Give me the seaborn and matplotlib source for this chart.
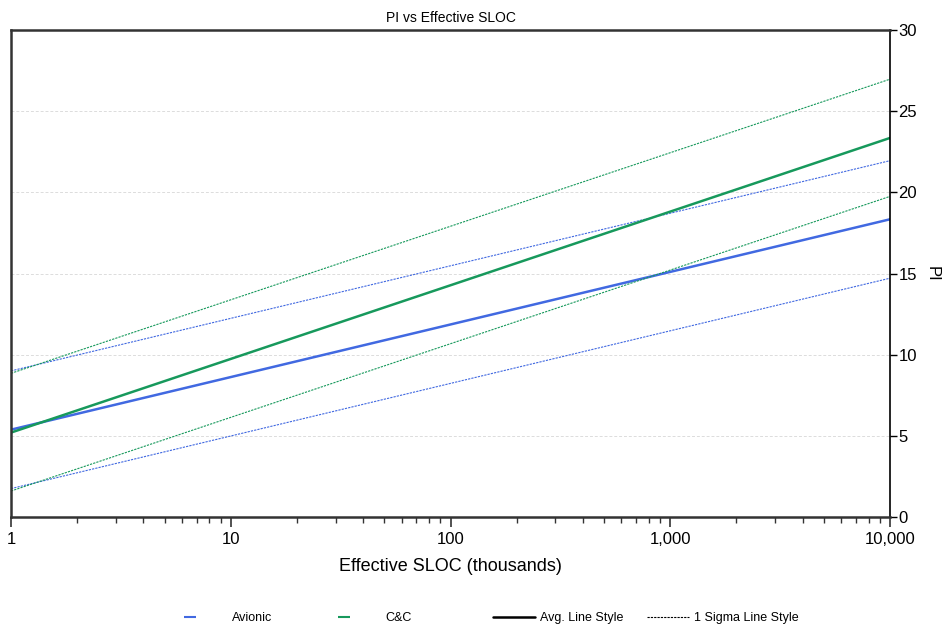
import matplotlib
matplotlib.use('Agg')
import matplotlib.pyplot as plt
import pandas as pd
import seaborn as sns
from matplotlib.ticker import FuncFormatter, LogLocator, NullFormatter, MultipleLocator
from matplotlib.lines import Line2D

# Data (PI at 1 and 10,000 thousand SLOC)
sloc = [1, 10000]
avionic_avg = [5.38, 18.34]
avionic_hi = [9.0, 21.95]
avionic_lo = [1.75, 14.71]
cc_avg = [5.2, 23.35]
cc_hi = [8.85, 26.97]
cc_lo = [1.6, 19.75]

series_names = ['Avionic', 'C&C']
series_colors = {'Avionic': '#4169e1', 'C&C': '#17995c'}

rows = []
for name, avg, hi, lo in [('Avionic', avionic_avg, avionic_hi, avionic_lo),
                          ('C&C', cc_avg, cc_hi, cc_lo)]:
    for kind, vals in [('avg', avg), ('hi', hi), ('lo', lo)]:
        for x, y in zip(sloc, vals):
            rows.append({'Series': name, 'Kind': kind, 'SLOC': x, 'PI': y})
df = pd.DataFrame(rows)

sns.set_style('white')
plt.rcParams['font.family'] = ['Liberation Sans', 'DejaVu Sans']
plt.rcParams['text.color'] = 'black'
plt.rcParams['axes.labelcolor'] = 'black'
plt.rcParams['xtick.color'] = 'black'
plt.rcParams['ytick.color'] = 'black'

fig = plt.figure(figsize=(9.44, 6.28), dpi=100, facecolor='white')
ax = fig.add_axes([11 / 944, 1 - 517 / 628, 879 / 944, 487 / 628])

ax.yaxis.grid(True, color='#dcdcdc', linestyle=(0, (3, 2)), linewidth=0.7)
ax.set_axisbelow(True)

for (name, kind), sub in df.groupby(['Series', 'Kind']):
    if kind == 'avg':
        sns.lineplot(data=sub, x='SLOC', y='PI', ax=ax, color=series_colors[name],
                     linewidth=1.8, legend=False)
    else:
        sns.lineplot(data=sub, x='SLOC', y='PI', ax=ax, color=series_colors[name],
                     linewidth=0.8, linestyle=(0, (2, 1)), legend=False)

ax.set_xscale('log')
ax.set_xlim(1, 10000)
ax.set_ylim(0, 30)

# y axis on the right
ax.yaxis.tick_right()
ax.yaxis.set_label_position('right')
ax.yaxis.set_major_locator(MultipleLocator(5))
ax.set_ylabel('PI', rotation=270, fontsize=12, labelpad=16)

ax.xaxis.set_major_locator(LogLocator(base=10, numticks=10))
ax.xaxis.set_minor_locator(LogLocator(base=10, subs=range(2, 10), numticks=50))
ax.xaxis.set_minor_formatter(NullFormatter())
ax.xaxis.set_major_formatter(FuncFormatter(lambda v, p: f'{int(round(v)):,}'))
ax.set_xlabel('Effective SLOC (thousands)', fontsize=13, labelpad=8)

ax.tick_params(axis='x', which='major', direction='out', length=7, width=1.2,
               labelsize=12, bottom=True, color='#333333', pad=4)
ax.tick_params(axis='x', which='minor', direction='out', length=4, width=1,
               bottom=True, color='#333333')
ax.tick_params(axis='y', which='major', direction='out', length=5, width=1,
               labelsize=12, right=True, left=False, color='black', pad=1)

for side in ['top', 'left', 'bottom']:
    ax.spines[side].set_color('#333333')
    ax.spines[side].set_linewidth(1.8)
ax.spines['right'].set_color('black')
ax.spines['right'].set_linewidth(1.2)

ax.set_title('PI vs Effective SLOC', fontsize=10, pad=6)

# legend: series colours
series_handles = [
    Line2D([], [], color=series_colors[n], marker='_', linestyle='none',
           markersize=9, markeredgewidth=1.5) for n in series_names
]
fig.legend(series_handles, series_names, loc='center left',
           bbox_to_anchor=(180 / 944, 1 - 618 / 628), ncol=2, frameon=False,
           fontsize=9, handlelength=1.6, handletextpad=2.56, columnspacing=4.9,
           borderpad=0, borderaxespad=0)

# legend: line styles
style_handles = [
    Line2D([], [], color='black', linewidth=1.8),
    Line2D([], [], color='black', linewidth=0.8, linestyle=(0, (2, 1))),
]
fig.legend(style_handles, ['Avg. Line Style', '1 Sigma Line Style'], loc='center left',
           bbox_to_anchor=(493 / 944, 1 - 618 / 628), ncol=2, frameon=False,
           fontsize=9, handlelength=3.36, handletextpad=0.4, columnspacing=1.9,
           borderpad=0, borderaxespad=0)

plt.savefig('out.png', dpi=100, facecolor='white')
